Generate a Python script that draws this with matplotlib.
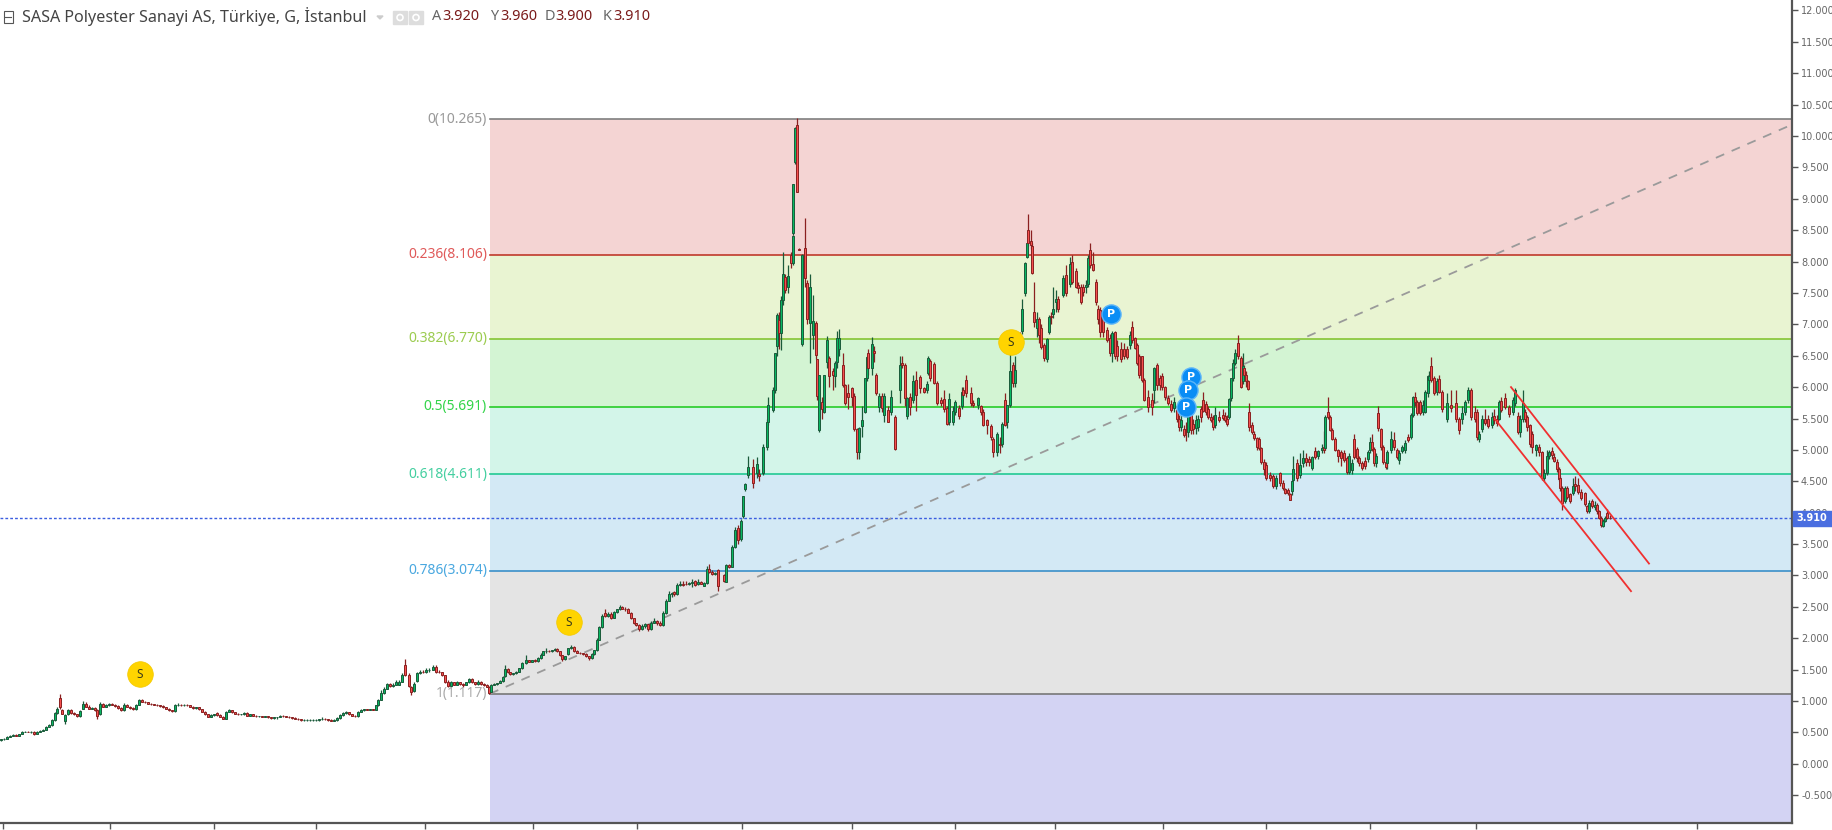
import matplotlib
matplotlib.use("Agg")
import matplotlib.pyplot as plt
from matplotlib.patches import Rectangle, Circle
from matplotlib.transforms import IdentityTransform

# bars: (day, open, high, low, close), day is the position along the time axis
early_bars = [
    (1,.38,.39,.37,.39),(4,.39,.41,.38,.40),(7,.40,.44,.40,.43),(10,.43,.46,.42,.45),(13,.45,.47,.44,.46),
    (16,.46,.47,.45,.45),(19,.45,.48,.45,.47),(22,.47,.52,.47,.51),(25,.51,.53,.50,.51),(28,.51,.52,.50,.50),
    (31,.50,.52,.49,.51),(34,.51,.52,.46,.47),(37,.47,.52,.47,.51),(40,.51,.54,.50,.53),(43,.53,.55,.52,.54),
    (46,.54,.60,.54,.59),(49,.59,.63,.58,.62),(52,.62,.72,.60,.70),(55,.70,.83,.69,.81),(57,.81,.90,.80,.88),
    (60,1.05,1.11,.88,.90),(62,.86,.87,.79,.80),(65,.68,.79,.64,.78),(68,.79,.88,.78,.85),(71,.85,.87,.80,.81),
    (74,.81,.83,.78,.79),(77,.79,.80,.75,.76),(80,.76,.86,.75,.84),(83,.88,1.00,.87,.96),(86,.96,.98,.90,.91),
    (89,.91,.93,.87,.88),(92,.88,.91,.87,.89),(95,.89,.90,.84,.85),(97,.85,.87,.72,.76),(100,.80,.98,.78,.95),
    (103,.95,.97,.90,.91),(106,.91,.95,.90,.93),(109,.93,.97,.92,.96),(112,.96,.97,.93,.94),(115,.94,.95,.91,.92),
    (118,.92,.93,.88,.89),(121,.89,.90,.84,.85),(124,.85,.97,.84,.93),(127,.93,.95,.90,.91),(130,.91,.92,.88,.89),
    (133,.89,.90,.86,.87),(136,.87,.95,.86,.94),(139,.94,1.03,.93,1.02),(142,1.02,1.03,.98,.99),(145,.99,1.00,.97,.98),
    (148,.98,.99,.95,.96),(151,.96,.97,.94,.95),(154,.95,.96,.93,.94),(157,.94,.95,.92,.93),(160,.93,.94,.91,.92),
    (163,.92,.93,.89,.90),(166,.90,.91,.87,.88),(169,.88,.89,.84,.85),(172,.85,.86,.83,.84),(175,.84,.96,.83,.93),
    (178,.93,.97,.92,.94),(181,.94,.95,.92,.93),(184,.93,.95,.92,.94),(187,.94,.95,.92,.93),(190,.93,.94,.90,.91),
    (193,.91,.92,.88,.89),(196,.89,.91,.88,.90),(199,.90,.91,.86,.87),(202,.87,.88,.82,.83),(205,.83,.84,.78,.79),
    (208,.79,.80,.74,.75),(211,.75,.79,.74,.78),(214,.78,.80,.77,.79),(217,.81,.82,.77,.78),(220,.78,.79,.74,.75),
    (223,.75,.76,.71,.72),(226,.72,.84,.71,.83),(229,.83,.88,.82,.85),(232,.85,.86,.81,.82),(235,.82,.83,.79,.80),
    (238,.80,.81,.78,.79),(241,.79,.80,.78,.79),(244,.79,.83,.78,.81),(247,.81,.82,.76,.77),(250,.77,.80,.76,.79),
    (253,.79,.80,.76,.77),(256,.77,.78,.75,.76),(259,.76,.77,.75,.76),(262,.76,.77,.74,.75),(265,.75,.77,.74,.76),
    (268,.76,.77,.73,.74),(271,.74,.75,.72,.73),(274,.73,.75,.72,.74),(277,.74,.75,.71,.75),(280,.75,.78,.74,.77),
    (283,.77,.78,.75,.76),(286,.76,.77,.74,.75),(289,.75,.76,.73,.74),(292,.74,.75,.72,.73),(295,.73,.74,.71,.72),
    (298,.72,.73,.70,.71),(301,.71,.72,.68,.70),(304,.70,.71,.69,.70),(307,.70,.71,.69,.70),(310,.70,.71,.69,.70),
    (313,.70,.71,.69,.70),(316,.70,.71,.69,.70),(319,.70,.71,.69,.71),(322,.71,.74,.70,.72),(325,.72,.73,.70,.71),
    (328,.71,.72,.69,.70),(331,.70,.71,.68,.69),(334,.69,.71,.68,.70),(337,.70,.74,.69,.73),(340,.73,.79,.72,.78),
    (343,.78,.82,.77,.81),(346,.81,.84,.80,.82),(349,.82,.83,.78,.79),(352,.79,.80,.76,.77),(355,.77,.78,.75,.76),
    (358,.76,.84,.75,.83),(361,.83,.87,.82,.85),(364,.85,.88,.84,.87),(367,.87,.88,.85,.86),(370,.86,.88,.85,.87),
    (373,.87,.88,.85,.86),(376,.86,.94,.85,.93),(378,.93,1.04,.92,1.02),(381,1.02,1.18,1.01,1.13),(384,1.13,1.22,1.12,1.20),
    (387,1.20,1.29,1.19,1.27),(390,1.27,1.29,1.23,1.24),(393,1.24,1.28,1.23,1.26),(396,1.26,1.33,1.25,1.31),(399,1.26,1.33,1.25,1.31),
    (402,1.31,1.45,1.30,1.42),(405,1.58,1.67,1.40,1.42),(409,1.42,1.44,1.22,1.24),(411,1.22,1.24,1.10,1.14),(414,1.16,1.30,1.14,1.27),
    (417,1.32,1.46,1.30,1.44),(420,1.44,1.50,1.43,1.47),(423,1.47,1.50,1.45,1.46),(426,1.46,1.52,1.45,1.49),(429,1.49,1.52,1.47,1.50),
    (433,1.50,1.58,1.49,1.55),(436,1.55,1.57,1.45,1.47),(439,1.47,1.49,1.44,1.46),(442,1.46,1.47,1.40,1.41),(445,1.41,1.42,1.29,1.31),
    (448,1.31,1.33,1.22,1.24),(451,1.24,1.32,1.23,1.30),(454,1.30,1.31,1.25,1.26),(457,1.26,1.32,1.25,1.30),(460,1.30,1.31,1.25,1.27),
    (463,1.27,1.29,1.23,1.26),(466,1.26,1.31,1.25,1.30),(469,1.30,1.36,1.29,1.35),(472,1.35,1.36,1.29,1.30),(475,1.30,1.31,1.26,1.27),
    (478,1.27,1.33,1.26,1.31),(481,1.31,1.32,1.26,1.27),(484,1.27,1.28,1.24,1.25),(487,1.25,1.27,1.22,1.23),(489,1.23,1.24,1.11,1.13),
]
rally_bars = [
    (491,1.15,1.27,1.14,1.26),(494,1.26,1.28,1.25,1.27),(497,1.27,1.29,1.26,1.28),(500,1.29,1.33,1.28,1.32),(503,1.32,1.40,1.31,1.39),
    (505,1.40,1.58,1.39,1.51),(508,1.51,1.53,1.44,1.46),(510,1.46,1.47,1.41,1.43),(513,1.43,1.45,1.41,1.44),(516,1.44,1.48,1.43,1.47),
    (519,1.47,1.53,1.46,1.52),(522,1.52,1.63,1.51,1.61),(526,1.60,1.73,1.59,1.65),(529,1.65,1.66,1.62,1.63),(532,1.63,1.66,1.62,1.65),
    (535,1.65,1.67,1.63,1.64),(538,1.64,1.70,1.63,1.68),(541,1.68,1.76,1.67,1.74),(543,1.74,1.80,1.73,1.79),(546,1.79,1.84,1.77,1.80),
    (549,1.80,1.81,1.78,1.79),(552,1.79,1.82,1.78,1.81),(555,1.81,1.84,1.80,1.83),(557,1.83,1.84,1.78,1.79),(560,1.79,1.80,1.71,1.73),
    (562,1.73,1.74,1.64,1.67),(565,1.67,1.72,1.65,1.71),(568,1.75,1.85,1.74,1.84),(571,1.84,1.89,1.83,1.86),(574,1.86,1.87,1.78,1.80),
    (577,1.80,1.81,1.76,1.77),(580,1.77,1.78,1.75,1.76),(583,1.76,1.77,1.73,1.75),(586,1.75,1.76,1.70,1.71),(589,1.71,1.72,1.66,1.68),
    (592,1.68,1.76,1.67,1.75),(594,1.75,1.82,1.74,1.81),(597,1.81,2.00,1.80,1.98),(599,1.98,2.20,1.97,2.18),(602,2.18,2.38,2.17,2.36),
    (605,2.40,2.47,2.34,2.36),(608,2.36,2.42,2.34,2.39),(611,2.39,2.42,2.31,2.33),(614,2.33,2.44,2.32,2.42),(617,2.42,2.47,2.41,2.46),
    (620,2.46,2.53,2.45,2.50),(622,2.50,2.52,2.46,2.47),(625,2.47,2.50,2.44,2.46),(628,2.46,2.48,2.40,2.41),(631,2.41,2.42,2.30,2.32),
    (634,2.32,2.33,2.22,2.24),(636,2.24,2.25,2.19,2.21),(639,2.21,2.22,2.12,2.14),(642,2.14,2.22,2.13,2.20),(645,2.20,2.25,2.16,2.22),
    (648,2.22,2.23,2.12,2.14),(651,2.14,2.27,2.13,2.25),(654,2.25,2.32,2.24,2.28),(657,2.28,2.29,2.21,2.24),(660,2.24,2.27,2.19,2.21),
    (663,2.21,2.43,2.20,2.40),(666,2.40,2.62,2.39,2.60),(669,2.60,2.75,2.59,2.70),(672,2.70,2.74,2.66,2.72),(674,2.74,2.76,2.68,2.70),
    (677,2.70,2.88,2.69,2.85),(680,2.85,2.92,2.84,2.86),(683,2.86,2.91,2.84,2.85),(686,2.87,2.92,2.85,2.86),(689,2.86,2.90,2.85,2.88),
    (692,2.88,2.95,2.82,2.89),(695,2.92,2.93,2.84,2.85),(698,2.86,2.94,2.85,2.90),(701,2.90,2.91,2.86,2.87),(704,2.84,2.90,2.83,2.88),
    (707,2.88,3.15,2.87,3.10),(709,3.10,3.18,3.04,3.05),(712,3.05,3.08,3.00,3.03),(715,3.03,3.05,3.00,3.04),(718,3.08,3.10,2.75,2.83),
    (724,3.00,3.02,2.90,2.92),(726,2.90,3.19,2.90,3.17),(729,3.17,3.19,3.12,3.14),(732,3.14,3.48,3.13,3.46),(735,3.46,3.78,3.44,3.72),
    (738,3.76,3.80,3.50,3.57),(741,3.58,3.90,3.55,3.87),(743,3.94,4.27,3.92,4.26),(745,4.38,4.48,4.35,4.45),(748,4.60,4.90,4.55,4.73),
]
peak_bars = [
    (753,4.73,4.85,4.40,4.47),(757,4.63,4.88,4.55,4.78),(759,4.62,4.70,4.50,4.58),(763,4.63,5.10,4.60,5.05),(767,5.05,5.50,5.00,5.45),
    (768,5.45,5.85,5.40,5.71),(773,5.63,6.00,5.60,5.95),(775,5.95,6.55,5.90,6.54),(777,6.65,7.18,6.50,7.15),(779,7.07,7.20,6.60,6.86),
    (781,6.86,7.45,6.59,7.38),(783,7.39,8.15,7.30,7.80),(785,7.76,7.80,7.50,7.55),(788,7.60,7.95,7.50,7.77),(791,8.10,8.15,7.90,7.98),
    (793,7.98,8.42,7.95,8.40),(793,8.45,9.24,8.42,9.23),(795,9.59,10.15,9.55,10.12),(797,10.18,10.29,9.10,9.11),(799,8.20,8.22,8.18,8.19),
    (802,6.68,8.12,6.65,8.10),(805,8.21,8.69,7.60,7.73),(807,7.66,7.70,7.00,7.08),(810,7.02,7.80,6.38,7.59),(813,6.83,7.47,6.60,7.06),
    (816,7.02,7.05,6.45,6.51),(817,6.44,6.45,5.80,5.86),(819,5.32,6.20,5.28,6.19),(822,5.77,5.85,5.50,5.65),(824,5.61,6.20,5.58,6.19),
]
range_bars = [
    (827,6.40,6.82,6.30,6.75),(829,6.46,6.50,6.00,6.17),(833,6.25,6.30,5.95,6.19),(835,6.17,6.42,6.00,6.38),(837,6.40,6.90,6.30,6.78),
    (839,6.60,6.92,6.50,6.78),(843,6.35,6.55,6.00,6.03),(845,6.03,6.05,5.72,5.75),(848,5.90,6.05,5.65,5.84),(852,5.98,6.00,5.70,5.85),
    (854,5.86,5.90,5.30,5.33),(857,5.33,5.35,4.85,4.96),(859,4.97,5.36,4.85,5.35),(862,5.38,5.70,5.20,5.48),(865,5.61,6.15,5.58,6.14),
    (867,6.14,6.50,6.10,6.48),(868,6.54,6.60,6.20,6.30),(872,6.30,6.80,6.20,6.68),(874,6.58,6.65,6.40,6.55),(876,6.20,6.22,5.88,5.90),
    (879,5.68,5.90,5.60,5.86),(882,5.86,5.90,5.60,5.67),(884,5.55,5.90,5.45,5.86),(888,5.63,5.70,5.45,5.45),(891,5.61,5.95,5.55,5.84),
    (895,5.53,5.55,5.00,5.01),(900,5.95,6.50,5.75,6.35),(902,6.38,6.50,6.30,6.35),(905,6.35,6.38,5.70,5.82),(907,5.54,5.85,5.50,5.82),
    (910,5.84,5.90,5.55,5.68),(913,5.80,6.20,5.75,6.10),(916,6.11,6.25,5.62,5.87),(920,6.16,6.20,5.90,5.98),(924,5.98,6.00,5.90,5.93),
    (927,5.95,6.10,5.90,6.05),(928,6.22,6.50,6.20,6.47),(930,6.41,6.45,6.10,6.14),(934,6.37,6.40,6.05,6.06),(937,6.06,6.10,5.72,5.75),
    (941,5.80,5.85,5.70,5.75),(944,5.81,5.95,5.60,5.65),(947,5.66,5.70,5.40,5.41),(949,5.45,5.90,5.40,5.81),(953,5.45,5.70,5.40,5.62),
    (955,5.61,5.80,5.55,5.77),(959,5.66,5.72,5.50,5.54),(962,5.70,6.00,5.65,5.92),(963,5.95,6.00,5.85,5.87),(966,6.12,6.20,5.85,5.90),
    (971,5.90,6.00,5.70,5.75),(973,5.75,5.80,5.68,5.72),(978,5.71,5.85,5.65,5.82),(981,5.70,5.72,5.55,5.61),(983,5.61,5.65,5.38,5.40),
    (987,5.48,5.50,5.25,5.39),(991,5.38,5.42,5.15,5.20),(993,5.18,5.20,4.88,4.96),(997,4.96,5.28,4.90,5.25),(1000,5.10,5.20,4.95,5.08),
    (1002,5.10,5.45,5.05,5.42),(1005,5.79,5.90,5.38,5.40),(1007,5.45,5.72,5.35,5.71),(1010,5.71,6.60,5.68,6.25),(1013,6.35,6.40,6.00,6.07),
    (1015,6.07,6.50,6.00,6.28),
]
second_peak_bars = [
    (1020,6.83,6.88,6.70,6.74),(1022,6.90,7.40,6.85,7.25),(1025,7.50,8.00,7.45,7.97),(1027,8.07,8.30,8.05,8.29),(1028,8.50,8.75,8.25,8.29),
    (1031,8.33,8.50,8.20,8.26),(1032,8.25,8.30,7.80,7.82),(1034,7.19,7.68,6.95,7.04),(1037,6.94,7.20,6.80,7.08),(1039,7.08,7.12,6.70,6.83),
    (1041,6.94,7.00,6.60,6.64),(1044,6.67,6.70,6.42,6.46),(1047,6.44,6.78,6.40,6.76),(1049,6.88,7.15,6.85,7.12),(1051,7.14,7.20,7.00,7.11),
    (1053,7.17,7.60,7.10,7.25),(1056,7.36,7.55,7.20,7.40),(1058,7.40,7.45,7.20,7.25),(1063,7.47,7.78,7.43,7.73),(1066,7.78,7.95,7.45,7.50),
    (1070,7.65,8.07,7.60,7.96),(1072,8.00,8.10,7.65,7.68),(1076,7.85,7.90,7.58,7.60),(1078,7.63,7.68,7.50,7.58),(1081,7.60,7.65,7.33,7.36),
    (1083,7.60,7.65,7.45,7.52),(1086,7.60,7.70,7.50,7.63),(1088,7.65,8.10,7.60,8.05),(1090,8.18,8.30,7.90,7.94),(1093,7.96,8.15,7.85,7.87),
    (1096,7.68,7.72,7.30,7.35),(1098,7.25,7.30,7.00,7.08),(1100,7.23,7.28,6.80,6.88),(1103,7.12,7.20,6.80,6.88),(1107,6.91,6.95,6.72,6.75),
    (1110,6.78,6.85,6.50,6.54),(1112,6.54,6.90,6.40,6.86),(1115,6.87,6.90,6.45,6.49),(1117,6.65,6.75,6.42,6.49),(1121,6.61,6.72,6.40,6.44),
    (1124,6.61,6.70,6.45,6.49),(1127,6.60,6.65,6.45,6.48),(1130,6.67,6.90,6.60,6.83),(1132,6.95,7.05,6.70,6.75),(1135,6.78,6.80,6.60,6.62),
    (1137,6.67,6.70,6.35,6.38),(1139,6.49,6.52,6.15,6.19),(1142,6.49,6.50,6.08,6.11),(1144,6.12,6.15,5.78,5.80),(1148,5.85,5.95,5.60,5.69),
    (1152,5.79,5.90,5.55,5.69),(1154,5.95,6.32,5.75,6.30),(1157,6.35,6.38,5.95,6.03),(1160,6.15,6.20,5.95,6.03),(1162,6.17,6.22,5.95,6.00),
    (1165,6.00,6.02,5.80,5.85),(1168,5.82,5.88,5.72,5.75),(1171,5.73,5.80,5.60,5.64),(1174,5.66,5.85,5.60,5.77),(1177,5.63,5.65,5.45,5.50),
    (1179,5.50,5.55,5.30,5.36),(1181,5.37,5.55,5.30,5.48),(1184,5.34,5.40,5.20,5.24),(1186,5.34,5.45,5.14,5.32),(1188,5.29,6.05,5.20,5.56),
    (1191,5.55,5.70,5.25,5.32),(1193,5.41,5.50,5.25,5.33),(1196,5.35,5.55,5.25,5.48),(1198,5.37,5.55,5.30,5.50),(1201,5.65,5.70,5.45,5.53),
    (1203,5.80,5.92,5.60,5.62),(1206,5.73,5.78,5.55,5.61),(1208,5.65,5.70,5.50,5.53),(1211,5.53,5.58,5.45,5.48),(1213,5.50,5.55,5.32,5.37),
    (1215,5.40,5.68,5.35,5.56),(1219,5.52,5.62,5.45,5.48),(1223,5.56,5.65,5.48,5.51),(1225,5.54,5.60,5.45,5.48),(1227,5.50,5.55,5.38,5.42),
    (1229,5.53,5.83,5.50,5.81),(1231,5.82,6.15,5.78,6.14),(1233,6.14,6.45,6.10,6.38),(1235,6.38,6.60,6.35,6.54),(1238,6.70,6.83,6.45,6.49),
    (1241,6.47,6.50,5.98,6.00),(1243,6.09,6.55,6.05,6.33),(1244,6.30,6.35,6.15,6.20),(1246,6.20,6.25,6.00,6.09),(1248,6.09,6.12,5.95,5.97),
]
slump_bars = [
    (1249,5.60,5.74,5.30,5.37),(1252,5.40,5.45,5.25,5.29),(1254,5.26,5.30,5.15,5.19),(1257,5.19,5.20,5.00,5.05),(1259,5.17,5.20,5.00,5.03),
    (1261,5.03,5.05,4.78,4.81),(1264,4.81,4.85,4.60,4.69),(1266,4.76,4.80,4.52,4.56),(1270,4.60,4.65,4.50,4.55),(1273,4.58,4.62,4.40,4.42),
    (1276,4.42,4.60,4.38,4.55),(1280,4.63,4.65,4.42,4.48),(1283,4.48,4.52,4.36,4.39),(1285,4.37,4.40,4.30,4.32),(1288,4.36,4.40,4.28,4.31),
    (1290,4.30,4.32,4.20,4.21),(1292,4.34,4.52,4.28,4.50),(1293,4.52,4.90,4.50,4.69),(1297,4.79,4.85,4.50,4.55),(1300,4.60,4.95,4.55,4.76),
    (1303,4.79,5.00,4.72,4.87),(1306,4.87,4.95,4.75,4.81),(1309,4.85,4.90,4.75,4.80),(1312,4.71,4.90,4.68,4.88),(1315,4.99,5.05,4.85,4.89),
    (1318,4.90,5.00,4.85,4.99),(1322,5.00,5.10,4.95,5.03),(1324,5.05,5.30,4.95,5.00),(1325,5.03,5.55,5.00,5.52),(1328,5.61,5.85,5.50,5.53),
    (1330,5.53,5.55,5.30,5.32),(1332,5.32,5.35,5.15,5.18),(1335,5.18,5.20,4.98,5.00),(1338,5.00,5.02,4.80,4.90),(1341,4.97,5.00,4.75,4.87),
    (1344,4.95,5.00,4.80,4.84),(1347,4.87,4.90,4.62,4.65),(1349,4.65,4.95,4.62,4.90),(1352,4.68,4.85,4.62,4.79),(1354,5.18,5.25,4.85,4.89),
    (1357,5.02,5.05,4.80,4.87),(1359,4.87,4.90,4.75,4.79),(1362,4.79,4.82,4.68,4.71),(1365,4.82,4.88,4.70,4.74),(1368,4.85,5.00,4.80,4.97),
    (1370,5.00,5.20,4.95,5.13),(1372,5.13,5.25,4.98,5.02),(1374,5.02,5.05,4.75,4.79),(1376,4.79,4.95,4.72,4.90),(1378,5.58,5.70,5.30,5.35),
    (1381,5.33,5.35,5.00,5.05),(1383,5.05,5.08,4.78,4.81),(1386,4.81,4.85,4.70,4.72),(1387,4.79,5.00,4.70,4.97),(1391,5.00,5.30,4.95,5.17),
    (1394,5.16,5.28,5.00,5.05),(1397,5.00,5.03,4.85,4.89),(1399,4.84,5.00,4.78,4.95),(1402,4.98,5.08,4.95,5.04),(1405,5.00,5.15,4.95,5.11),
    (1408,5.20,5.25,5.12,5.16),(1411,5.20,5.58,5.18,5.56),(1413,5.56,5.86,5.52,5.84),(1415,5.85,5.92,5.70,5.77),(1417,5.77,5.80,5.55,5.58),
    (1420,5.77,5.80,5.55,5.58),(1423,5.61,5.80,5.55,5.72),(1425,5.61,5.95,5.58,5.93),(1428,5.90,6.20,5.85,6.17),(1429,6.11,6.25,6.05,6.18),
    (1431,6.33,6.48,6.08,6.11),(1434,6.14,6.17,5.88,5.91),(1437,5.93,6.15,5.88,6.09),(1439,6.13,6.20,5.90,5.93),(1442,5.93,5.95,5.60,5.65),
    (1447,5.49,5.90,5.45,5.74),(1451,5.72,5.95,5.60,5.66),(1456,5.75,5.95,5.45,5.50),(1459,5.49,5.52,5.25,5.31),(1462,5.50,5.70,5.42,5.58),
    (1465,5.60,5.80,5.55,5.77),(1468,5.80,6.00,5.75,5.96),(1471,5.95,5.98,5.48,5.52),(1475,5.60,5.70,5.45,5.50),(1477,5.60,5.65,5.15,5.20),
    (1479,5.18,5.30,5.12,5.26),(1482,5.34,5.55,5.28,5.50),(1485,5.50,5.65,5.40,5.43),(1488,5.49,5.55,5.35,5.38),(1492,5.40,5.60,5.35,5.52),
    (1494,5.54,5.65,5.42,5.48),(1497,5.50,5.55,5.38,5.43),(1499,5.49,5.80,5.48,5.77),
]
decline_bars = [
    (1501,5.78,5.85,5.60,5.64),(1505,5.82,5.90,5.65,5.69),(1509,5.68,5.72,5.52,5.57),(1513,5.61,5.85,5.55,5.80),(1515,5.75,5.99,5.70,5.95),
    (1518,5.54,5.60,5.25,5.29),(1520,5.29,5.55,5.20,5.50),(1523,5.50,5.95,5.45,5.74),(1525,5.61,5.65,5.45,5.50),(1527,5.53,5.55,5.30,5.36),
    (1530,5.40,5.42,5.05,5.10),(1532,5.26,5.30,4.95,5.05),(1536,5.00,5.10,4.90,5.08),(1539,5.05,5.10,4.90,4.96),(1542,4.96,4.98,4.52,4.56),
    (1544,4.55,4.70,4.50,4.64),(1547,4.64,5.00,4.60,4.90),(1549,4.90,5.00,4.85,4.97),(1552,4.99,5.05,4.85,4.92),(1554,4.88,4.95,4.80,4.83),
    (1557,4.81,4.85,4.65,4.69),(1559,4.69,4.72,4.50,4.54),(1560,4.55,4.58,4.35,4.39),(1562,4.39,4.42,4.05,4.16),(1565,4.18,4.42,4.15,4.39),
    (1567,4.39,4.42,4.22,4.25),(1570,4.30,4.32,4.15,4.19),(1573,4.31,4.55,4.28,4.42),(1575,4.46,4.58,4.35,4.43),(1578,4.44,4.55,4.30,4.33),
    (1581,4.33,4.38,4.20,4.23),(1585,4.31,4.33,4.10,4.14),(1587,4.10,4.12,4.00,4.02),(1589,4.03,4.20,4.00,4.15),(1592,4.19,4.22,4.08,4.11),
    (1595,4.09,4.18,4.05,4.13),(1597,4.12,4.15,3.98,4.02),(1599,4.02,4.05,3.90,3.92),(1601,3.92,3.95,3.78,3.80),(1603,3.79,3.90,3.78,3.87),
    (1605,3.87,3.95,3.85,3.91),(1607,4.00,4.06,3.90,3.92),(1610,3.92,3.96,3.90,3.91),
]

fib_ratios = ["0", "0.236", "0.382", "0.5", "0.618", "0.786", "1"]
fib_prices = [10.265, 8.106, 6.770, 5.691, 4.611, 3.074, 1.117]
fib_bottom = -0.92
fib_lines = ["#7f7f7f", "#c0392b", "#86c534", "#27cc27", "#22c993", "#3a8fc9", "#777777"]
fib_text = ["#999999", "#e05a5a", "#9ccc50", "#33d44a", "#44cfa0", "#4aa8e0", "#aaaaaa"]
fib_fill = ["#f4d4d3", "#e9f4d2", "#d3f4d3", "#d3f5e9", "#d3e9f5", "#e4e4e4", "#d3d3f3"]

time_ticks = [3, 110, 214, 316, 425, 533, 637, 742, 852, 955, 1055, 1163, 1266, 1370, 1476, 1587, 1697]
price_ticks = [-0.5 + 0.5 * i for i in range(26)]
last_price = 3.91

s_days = [140, 569, 1011]
s_prices = [1.426, 2.254, 6.714]
p_days = [1111, 1191, 1188, 1186]
p_prices = [7.159, 6.156, 5.949, 5.678]

trend_days = [490, 1789]
trend_prices = [1.117, 10.16]
upper_days = [1511, 1649]
upper_prices = [6.00, 3.19]
lower_days = [1495, 1631]
lower_prices = [5.49, 2.75]

bars = sorted(early_bars + rally_bars + peak_bars + range_bars + second_peak_bars + slump_bars + decline_bars,
              key=lambda b: b[0])
days = [b[0] for b in bars]
opens = [b[1] for b in bars]
highs = [b[2] for b in bars]
lows = [b[3] for b in bars]
closes = [b[4] for b in bars]

fig = plt.figure(figsize=(18.33, 8.30), dpi=100)
ax = fig.add_axes([0, 7 / 830, 1792 / 1833, 823 / 830])
ax.set_xlim(0, 1792)
ax.set_ylim(-0.942, 12.165)

# fib bands
right = 1791
left = trend_days[0]
edges = fib_prices + [fib_bottom]
for i in range(7):
    ax.fill_between([left, right], edges[i + 1], edges[i], color=fib_fill[i], lw=0, zorder=1)
for i in range(7):
    ax.plot([left, right], [fib_prices[i], fib_prices[i]], color=fib_lines[i], lw=1.2, zorder=2)
    ax.text(left - 3, fib_prices[i], f"{fib_ratios[i]}({fib_prices[i]:.3f})", color=fib_text[i],
            ha="right", va="center", family="Noto Sans", fontsize=10, zorder=7)

ax.plot([0, 1792], [last_price, last_price], color="#3c5ee0", lw=1, ls=(0, (2, 1.5)), zorder=2.5)
ax.plot(trend_days, trend_prices, color="#9a9a9a", lw=1.3, ls=(0, (5, 4.5)), zorder=3)

# candles
colors_body = ["#08b862" if c >= o else "#f5504f" for o, c in zip(opens, closes)]
colors_edge = ["#1a5a3a" if c >= o else "#8a2020" for o, c in zip(opens, closes)]
ax.vlines(days, lows, highs, colors=colors_edge, lw=0.9, zorder=4)
body_low = [min(o, c) for o, c in zip(opens, closes)]
body_h = [abs(o - c) for o, c in zip(opens, closes)]
ax.bar(days, body_h, bottom=body_low, width=2.6, color=colors_body, edgecolor=colors_edge, linewidth=0.7, zorder=4.5)

ax.plot(upper_days, upper_prices, color="#f03030", lw=1.3, zorder=5)
ax.plot(lower_days, lower_prices, color="#f03030", lw=1.3, zorder=5)

# S and P event markers
ax.scatter(s_days, s_prices, s=340, color="#ffd400", edgecolors="#f3c800", linewidths=0.5, zorder=6)
for d, p in zip(s_days, s_prices):
    ax.text(d, p, "S", ha="center", va="center", color="#3a3a1a", family="Noto Sans", fontsize=8.5, zorder=7)
ax.scatter(p_days, p_prices, s=190, color="#0a8df5", edgecolors="#5db5f8", linewidths=1, zorder=6)
for d, p in zip(p_days, p_prices):
    ax.text(d, p, "P", ha="center", va="center", color="white", family="DejaVu Sans", fontsize=8, weight="bold", zorder=7)

# axes
for side in ["top", "left"]:
    ax.spines[side].set_visible(False)
for side in ["right", "bottom"]:
    ax.spines[side].set_color("#555555")
    ax.spines[side].set_linewidth(1.6)
ax.set_xticks(time_ticks)
ax.set_xticklabels([])
ax.tick_params(axis="x", length=4, color="#555555", width=1)
ax.yaxis.tick_right()
ax.set_yticks(price_ticks)
ax.set_yticklabels([f"{t:.3f}" for t in price_ticks], family="DejaVu Sans", fontsize=7, color="#666666")
ax.tick_params(axis="y", length=4, color="#555555", width=1, pad=2.5)

ax.add_patch(Rectangle((1793, last_price - 0.115), 39, 0.23, color="#4a6ee0", clip_on=False, zorder=10))
ax.text(1812, last_price, f"{last_price:.3f}", color="white", weight="bold", family="DejaVu Sans",
        fontsize=7, ha="center", va="center", clip_on=False, zorder=11)

# header
H = 830.0
W = 1833.0
fig.text(22 / W, 1 - 17 / H, "SASA Polyester Sanayi AS, Türkiye, G, İstanbul", family="Noto Sans",
         fontsize=11.6, color="#444444", va="center")
fig.add_artist(Rectangle((4 / W, 1 - 23 / H), 9 / W, 12 / H, transform=fig.transFigure, fill=False,
                         edgecolor="#555555", lw=0.8))
fig.add_artist(plt.Line2D([5.5 / W, 11.5 / W], [1 - 17 / H, 1 - 17 / H], transform=fig.transFigure, color="#555555", lw=0.8))
fig.add_artist(plt.Polygon([[377 / W, 1 - 16 / H], [383 / W, 1 - 16 / H], [380 / W, 1 - 19 / H]],
                           transform=fig.transFigure, color="#cccccc"))
for x0 in (393, 409):
    fig.add_artist(Rectangle((x0 / W, 1 - 24 / H), 14 / W, 13 / H, transform=fig.transFigure, color="#dddddd"))
    fig.add_artist(Circle((x0 + 7, H - 17.5), 3, transform=IdentityTransform(), fill=False, edgecolor="white", lw=1.2))

ohlc_names = ["A", "Y", "D", "K"]
ohlc_vals = ["3.920", "3.960", "3.900", "3.910"]
ohlc_x = [432, 490, 545, 603]
for n, v, x in zip(ohlc_names, ohlc_vals, ohlc_x):
    fig.text(x / W, 1 - 17 / H, n, family="Noto Sans", fontsize=10.4, color="#666666", va="center")
    fig.text((x + 10) / W, 1 - 17 / H, v, family="Noto Sans", fontsize=10.4, color="#7a1a1a", va="center")

fig.savefig("out.png", dpi=100)
